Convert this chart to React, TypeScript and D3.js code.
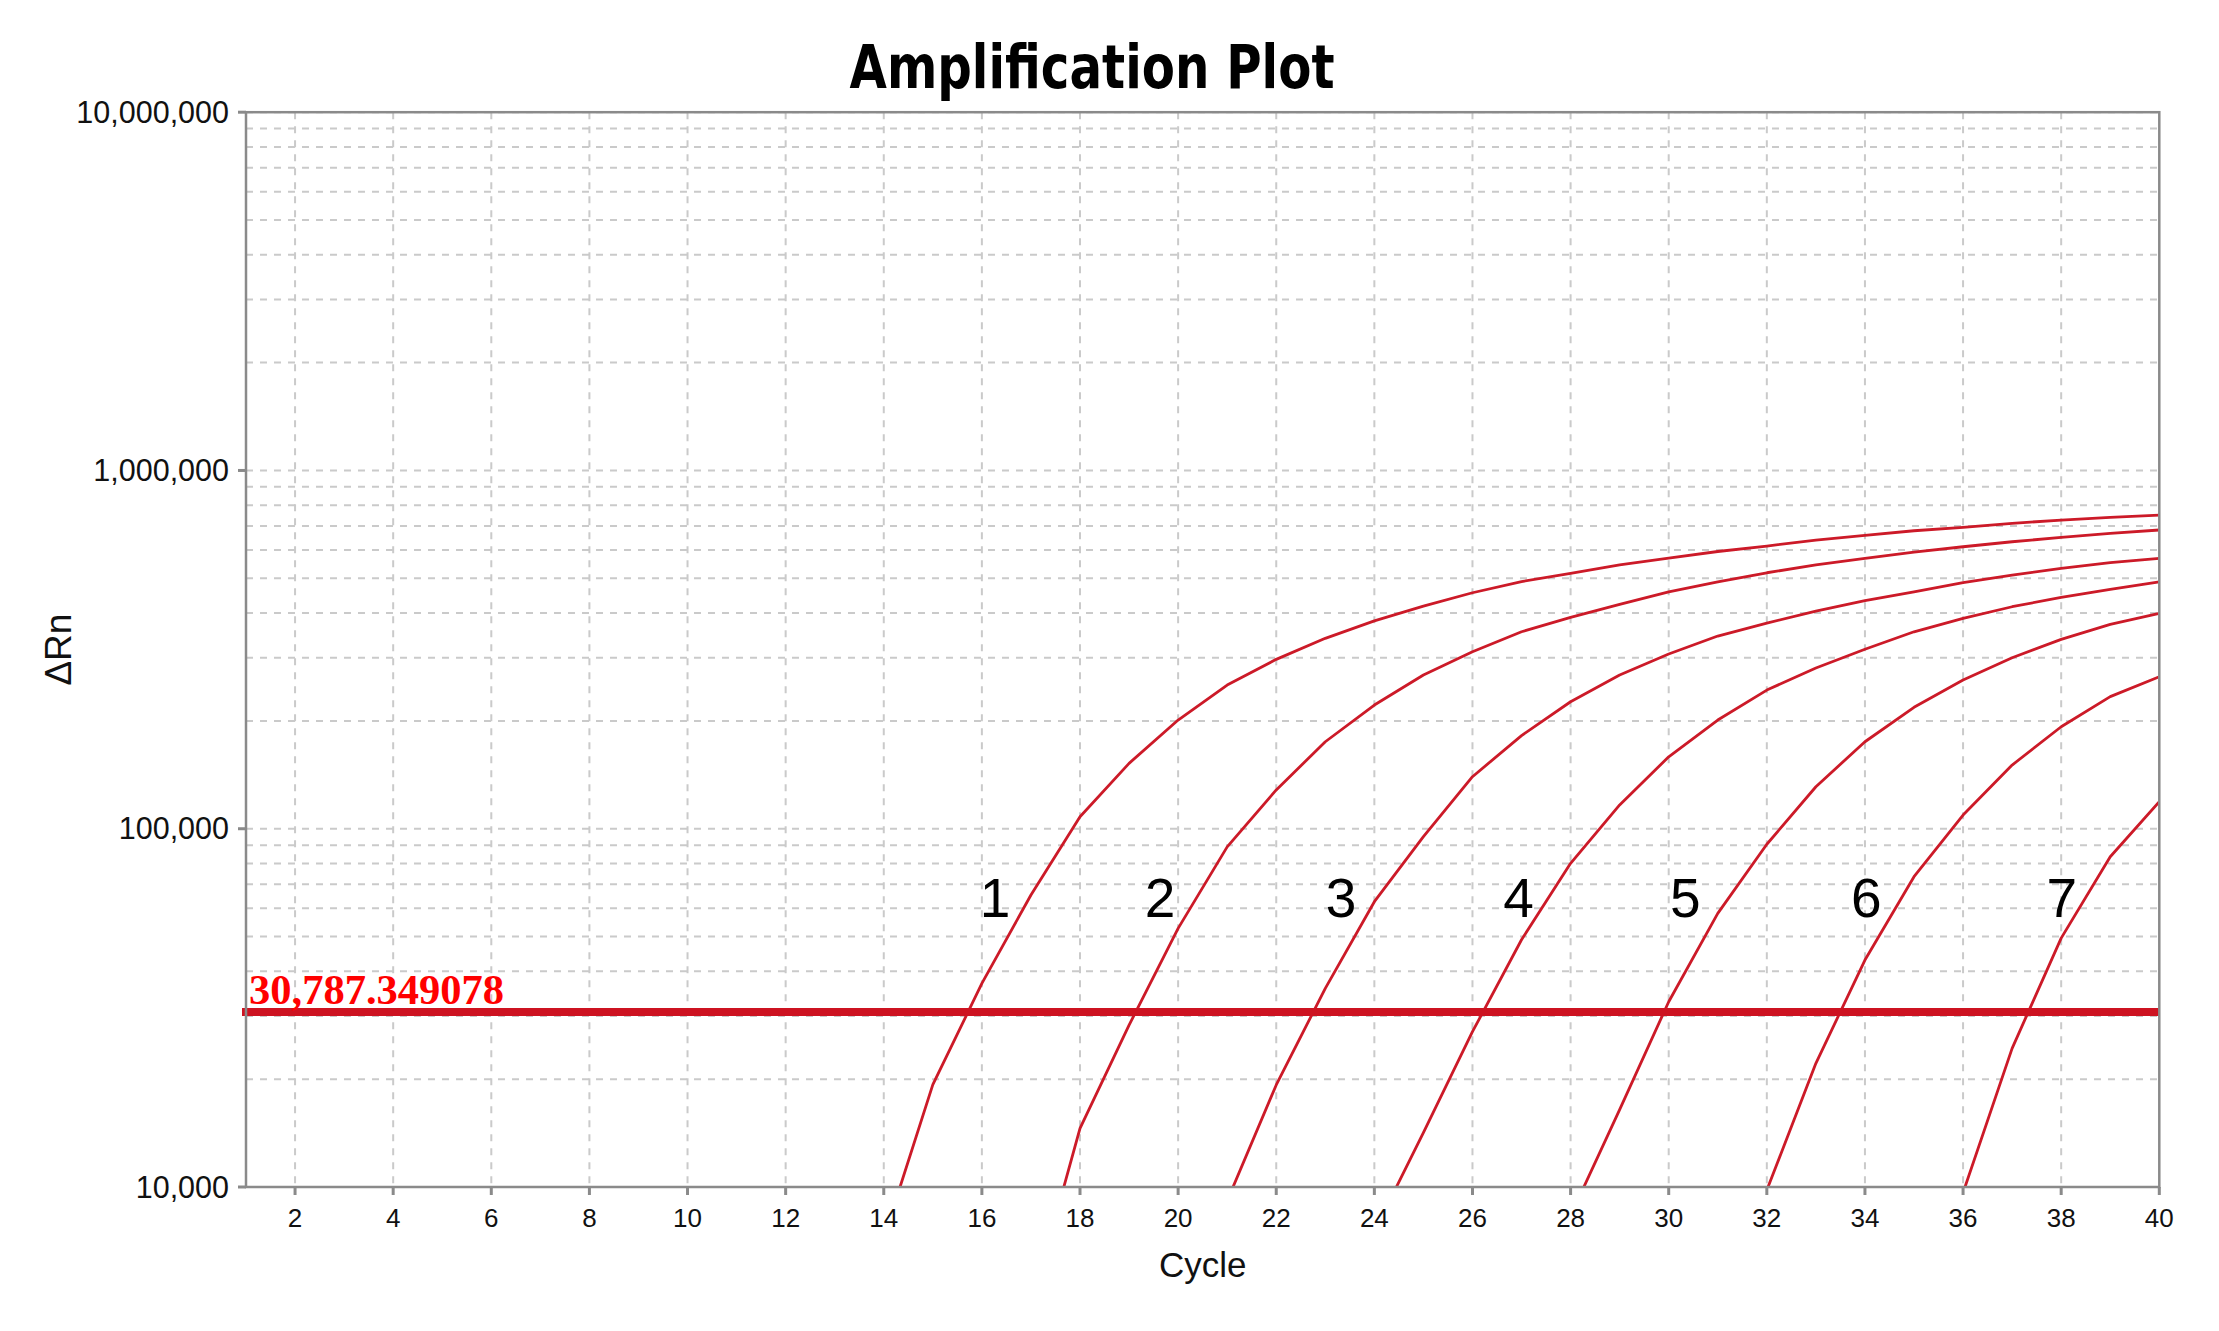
import React from "react";
import * as d3 from "d3";

const TITLE = "Amplification Plot";
const X_LABEL = "Cycle";
const Y_LABEL = "ΔRn";
const THRESHOLD = 30787.349078;
const THRESHOLD_LABEL = "30,787.349078";

const X_TICKS = [2, 4, 6, 8, 10, 12, 14, 16, 18, 20, 22, 24, 26, 28, 30, 32, 34, 36, 38, 40];
const Y_TICKS = [1e4, 1e5, 1e6, 1e7];
const Y_TICK_LABELS = ["10,000", "100,000", "1,000,000", "10,000,000"];

// each curve: first cycle and one value per cycle from there to 40
const curve1Start = 14;
const curve1 = [7220, 19300, 37000, 65300, 108000, 152200, 201100, 251800, 297000, 340000, 380500, 418300, 455700, 489600, 516200, 545000, 569000, 594000, 615200, 639400, 659000, 678800, 694000, 712000, 727000, 739700, 750700];
const curve2Start = 17;
const curve2 = [4650, 14580, 28300, 52700, 89000, 128300, 174900, 221400, 268500, 311900, 354600, 389000, 422900, 458000, 489000, 518200, 545000, 568500, 592000, 612400, 632400, 650600, 667600, 682000];
const curve3Start = 21;
const curve3 = [9150, 19270, 35850, 62560, 95000, 139700, 182000, 226200, 268500, 307300, 345000, 375000, 405000, 433000, 458600, 486000, 510600, 533200, 553000, 568500];
const curve4Start = 24;
const curve4 = [7520, 14180, 27130, 49000, 80060, 116500, 158800, 201100, 243800, 281000, 317000, 354600, 386600, 416500, 442400, 466000, 489000];
const curve5Start = 28;
const curve5 = [8320, 16440, 32900, 58060, 90500, 131000, 174900, 218200, 260000, 300000, 337800, 372000, 399400];
const curve6Start = 32;
const curve6 = [9800, 22140, 43000, 73450, 109200, 150600, 192600, 233800, 265700];
const curve7Start = 36;
const curve7 = [9640, 24380, 49500, 83550, 119000];

const CURVE_STARTS = [curve1Start, curve2Start, curve3Start, curve4Start, curve5Start, curve6Start, curve7Start];
const CURVES = [curve1, curve2, curve3, curve4, curve5, curve6, curve7];
const CURVE_NAMES = ["1", "2", "3", "4", "5", "6", "7"];
const LABEL_CYCLES = [16.27, 19.63, 23.32, 26.94, 30.34, 34.03, 38.01];
const LABEL_VALUE = 56800;

const W = 2219;
const H = 1331;
const M = { left: 246, right: 2159.3, top: 112.2, bottom: 1187 };

export default function App() {
  const x = d3.scaleLinear().domain([1, 40]).range([M.left, M.right]);
  const y = d3.scaleLog().domain([1e4, 1e7]).range([M.bottom, M.top]);

  const minor: number[] = [];
  [1e4, 1e5, 1e6].forEach((d) => {
    for (let k = 1; k <= 9; k++) minor.push(d * k);
  });
  minor.push(1e7);

  const line = d3
    .line<[number, number]>()
    .x((d) => x(d[0]))
    .y((d) => y(d[1]))
    .curve(d3.curveLinear);

  const font = "'Liberation Sans', Arial, sans-serif";
  const gridColor = "#cacaca";
  const axisColor = "#8a8a8a";
  const curveColor = "#cc1a28";

  return (
    <svg width={W} height={H} style={{ position: "absolute", left: 0, top: 0, background: "#fff" }}>
      <defs>
        <clipPath id="plotClip">
          <rect x={M.left} y={M.top} width={M.right - M.left} height={M.bottom - M.top} />
        </clipPath>
      </defs>
      <rect x={0} y={0} width={W} height={H} fill="#fff" />

      {/* grid */}
      <g>
        {minor.map((v, i) => (
          <line key={"h" + i} x1={M.left} x2={M.right} y1={y(v)} y2={y(v)} stroke={gridColor} strokeWidth={2} strokeDasharray="7,7" />
        ))}
        {X_TICKS.filter((t) => t < 40).map((t) => (
          <line key={"v" + t} x1={x(t)} x2={x(t)} y1={M.top} y2={M.bottom} stroke={gridColor} strokeWidth={2} strokeDasharray="7,7" />
        ))}
      </g>

      {/* curves */}
      <g clipPath="url(#plotClip)">
        {CURVES.map((vals, ci) => {
          const pts: [number, number][] = vals.map((v, i) => [CURVE_STARTS[ci] + i, v]);
          return <path key={ci} d={line(pts) || ""} fill="none" stroke={curveColor} strokeWidth={2.8} strokeLinejoin="round" />;
        })}
      </g>

      {/* threshold */}
      <line x1={M.left - 4} x2={M.right} y1={y(THRESHOLD)} y2={y(THRESHOLD)} stroke="#cd1321" strokeWidth={8} />
      <text x={249} y={1004} fill="#ff0000" fontFamily="'Liberation Serif', 'Times New Roman', serif" fontWeight="bold" fontSize={42.5}>
        {THRESHOLD_LABEL}
      </text>

      {/* curve labels */}
      {CURVE_NAMES.map((n, i) => (
        <text key={n} x={x(LABEL_CYCLES[i])} y={y(LABEL_VALUE)} textAnchor="middle" fontFamily={font} fontSize={55} fill="#000">
          {n}
        </text>
      ))}

      {/* frame */}
      <rect x={M.left} y={M.top} width={M.right - M.left} height={M.bottom - M.top} fill="none" stroke={axisColor} strokeWidth={2.5} />

      {/* x ticks */}
      {X_TICKS.map((t) => (
        <g key={"xt" + t}>
          <line x1={x(t)} x2={x(t)} y1={M.bottom} y2={M.bottom + 8} stroke={axisColor} strokeWidth={3} />
          <text x={x(t)} y={1227} textAnchor="middle" fontFamily={font} fontSize={26} fill="#111">
            {t}
          </text>
        </g>
      ))}

      {/* y ticks */}
      {Y_TICKS.map((t, i) => (
        <g key={"yt" + t}>
          <line x1={M.left - 8} x2={M.left} y1={y(t)} y2={y(t)} stroke={axisColor} strokeWidth={3} />
          <text x={229} y={y(t)} dy="0.35em" textAnchor="end" fontFamily={font} fontSize={30.5} fill="#111">
            {Y_TICK_LABELS[i]}
          </text>
        </g>
      ))}

      {/* axis titles */}
      <text x={(M.left + M.right) / 2} y={1277} textAnchor="middle" fontFamily={font} fontSize={35} fill="#111">
        {X_LABEL}
      </text>
      <text transform={`translate(71, ${(M.top + M.bottom) / 2}) rotate(-90)`} textAnchor="middle" fontFamily={font} fontSize={37} fill="#111">
        {Y_LABEL}
      </text>

      {/* title */}
      <text x={1092} y={88} textAnchor="middle" fontFamily="'DejaVu Sans', Verdana, sans-serif" fontWeight="bold" fontSize={61} textLength={485} lengthAdjust="spacingAndGlyphs" fill="#000">
        {TITLE}
      </text>
    </svg>
  );
}
